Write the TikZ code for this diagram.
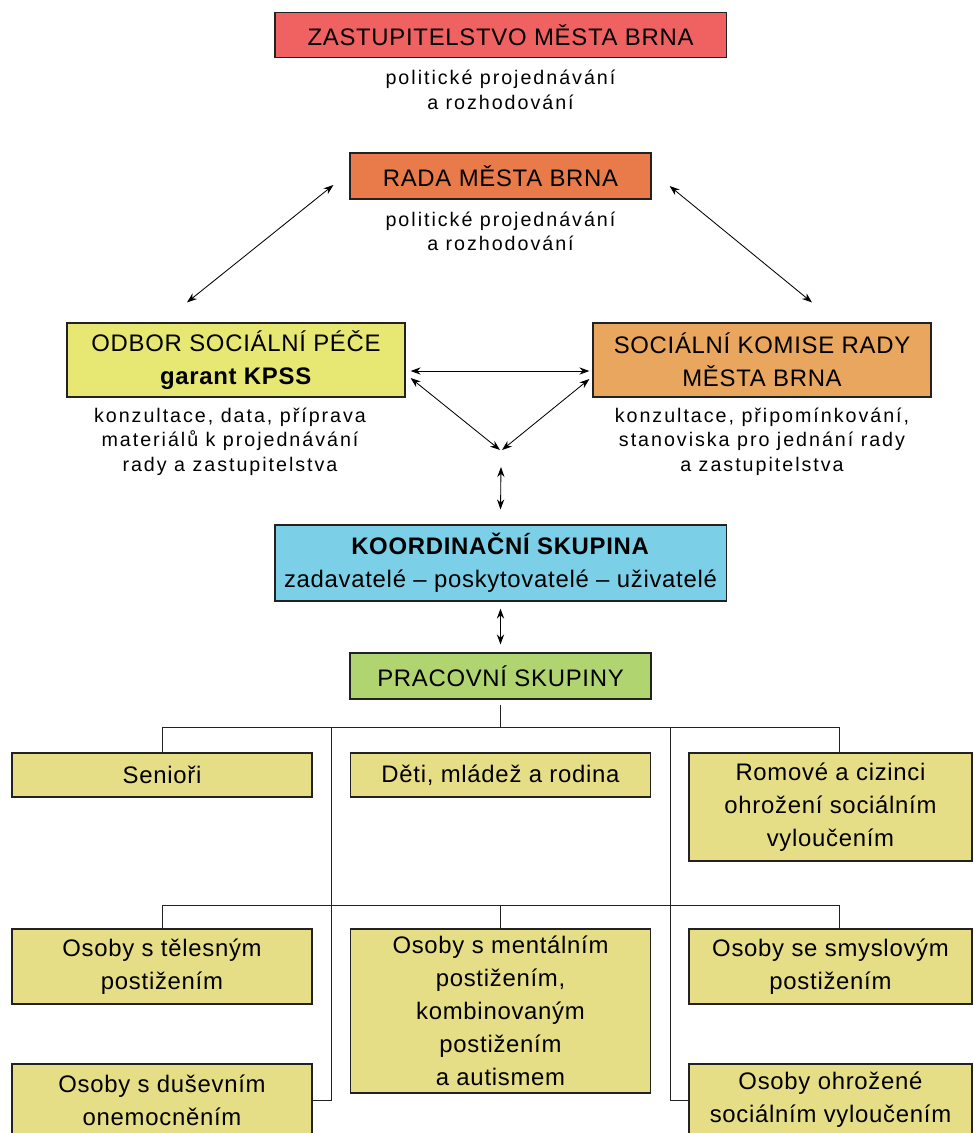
\documentclass[tikz,border=0pt]{standalone}
\usepackage{fontspec}
\setmainfont[LetterSpace=3]{Liberation Sans}
\newfontfamily\notefont[LetterSpace=10]{Liberation Sans}
\usepackage{tikz}
\usetikzlibrary{arrows.meta, positioning, calc}
\definecolor{box-zast}{HTML}{F06262}
\definecolor{box-rada}{HTML}{E97B4B}
\definecolor{box-odbor}{HTML}{E7E773}
\definecolor{box-komise}{HTML}{E9A65E}
\definecolor{box-koord}{HTML}{7BCFE6}
\definecolor{box-prac}{HTML}{B0D46F}
\definecolor{box-group}{HTML}{E6DD87}
\definecolor{line-dark}{HTML}{222222}

\begin{document}
\begin{tikzpicture}[x=0.025cm, y=-0.025cm,
    orgbox/.style={draw=line-dark, line width=0.8pt, rectangle, align=center,
      inner sep=0pt, font=\fontsize{17}{23.5}\selectfont},
    groupbox/.style={orgbox, fill=box-group, minimum width=7.5cm},
    notetext/.style={align=center, inner sep=0pt,
      font=\notefont\fontsize{14}{17.5}\selectfont},
    dblarrow/.style={{Stealth[length=0.25cm,width=0.18cm]}-{Stealth[length=0.25cm,width=0.18cm]},
      line width=0.6pt},
    treeline/.style={draw=line-dark, line width=0.7pt}]
  \useasboundingbox (0,0) rectangle (974,1133);
  % Council and board
  \node[orgbox, fill=box-zast, minimum width=11.275cm, minimum height=1.11cm]
    (zast) at (500.5,35) {ZASTUPITELSTVO MĚSTA BRNA};
  \node[notetext, below=0.3cm of zast] (zastnote)
    {politické projednávání\\a rozhodování};
  \node[orgbox, fill=box-rada, minimum width=7.525cm, minimum height=1.15cm]
    (rada) at (500.5,176) {RADA MĚSTA BRNA};
  \node[notetext, below=0.3cm of rada] (radanote)
    {politické projednávání\\a rozhodování};
  % Department and commission
  \node[orgbox, fill=box-odbor, minimum width=8.45cm, minimum height=1.85cm]
    (odbor) at (236,360) {ODBOR SOCIÁLNÍ PÉČE\\\textbf{garant KPSS}};
  \node[notetext, below=0.25cm of odbor, xshift=-0.15cm] (odbornote)
    {konzultace, data, příprava\\materiálů k projednávání\\rady a zastupitelstva};
  \node[orgbox, fill=box-komise, minimum width=8.45cm, minimum height=1.85cm]
    (komise) at (762,360) {SOCIÁLNÍ KOMISE RADY\\MĚSTA BRNA};
  \node[notetext, below=0.25cm of komise] (komisenote)
    {konzultace, připomínkování,\\stanoviska pro jednání rady\\a zastupitelstva};
  \coordinate (meet) at (501,450);
  % Coordination and working groups
  \node[orgbox, fill=box-koord, minimum width=11.275cm, minimum height=1.9cm]
    (koord) at (500.5,563) {\textbf{KOORDINAČNÍ SKUPINA}\\zadavatelé – poskytovatelé – uživatelé};
  \node[orgbox, fill=box-prac, minimum width=7.525cm, minimum height=1.15cm]
    (prac) at (500.5,676) {PRACOVNÍ SKUPINY};
  % Groups, first row
  \node[groupbox, minimum height=1.1cm] (seniori) at (162,775) {Senioři};
  \node[groupbox, minimum height=1.1cm] (deti) at (500.5,775) {Děti, mládež a rodina};
  \node[groupbox, minimum width=7.075cm, minimum height=2.7cm]
    (romove) at (830.5,807) {Romové a cizinci\\ohrožení sociálním\\vyloučením};
  % Groups, second row
  \node[groupbox, minimum height=1.875cm] (telesne) at (162,966.5)
    {Osoby s tělesným\\postižením};
  \node[groupbox, minimum height=4.1cm] (mentalni) at (500.5,1011)
    {Osoby s mentálním\\postižením,\\kombinovaným\\postižením\\a autismem};
  \node[groupbox, minimum width=7.075cm, minimum height=1.875cm]
    (smyslove) at (830.5,966.5) {Osoby se smyslovým\\postižením};
  \node[groupbox, minimum height=1.8cm] (dusevni) at (162,1100)
    {Osoby s duševním\\onemocněním};
  \node[groupbox, minimum width=7.075cm, minimum height=1.8cm]
    (ohrozene) at (830.5,1100) {Osoby ohrožené\\sociálním vyloučením};

  % Arrows
  \draw[dblarrow] ($(rada.west)+(-16,9)$) -- ($(odbor.north)+(-49,-20)$);
  \draw[dblarrow] ($(rada.east)+(18,10)$) -- ($(komise.north)+(50,-20)$);
  \draw[dblarrow] ($(odbor.east)+(5,11)$) -- ($(komise.west)+(-3,11)$);
  \draw[dblarrow] ($(odbor.east)+(5,18)$) -- ($(meet)+(-1,0)$);
  \draw[dblarrow] ($(komise.west)+(-3,19)$) -- ($(meet)+(1,0)$);
  \draw[dblarrow] ($(meet)+(0,17)$) -- ($(koord.north)+(0,-15)$);
  \draw[dblarrow] ($(koord.south)+(0,7)$) -- ($(prac.north)+(0,-8)$);

  % Tree lines
  \coordinate (busL) at (162,727);
  \coordinate (busR) at (839,727);
  \coordinate (splitL) at (331,727);
  \coordinate (splitR) at (670,727);
  \coordinate (bus2L) at (162,905);
  \coordinate (bus2R) at (839,905);
  \draw[treeline] ($(prac.south)+(0,5)$) -- (prac.south |- busL);
  \draw[treeline] (busL) -- (busR);
  \draw[treeline] (busL) -- (busL |- seniori.north);
  \draw[treeline] (busR) -- (busR |- romove.north);
  \draw[treeline] (splitL) |- (dusevni.east);
  \draw[treeline] (splitR) |- (ohrozene.west);
  \draw[treeline] (bus2L) -- (bus2R);
  \draw[treeline] (bus2L) -- (bus2L |- telesne.north);
  \draw[treeline] (mentalni.north |- bus2L) -- (mentalni.north);
  \draw[treeline] (bus2R) -- (bus2R |- smyslove.north);
\end{tikzpicture}
\end{document}
